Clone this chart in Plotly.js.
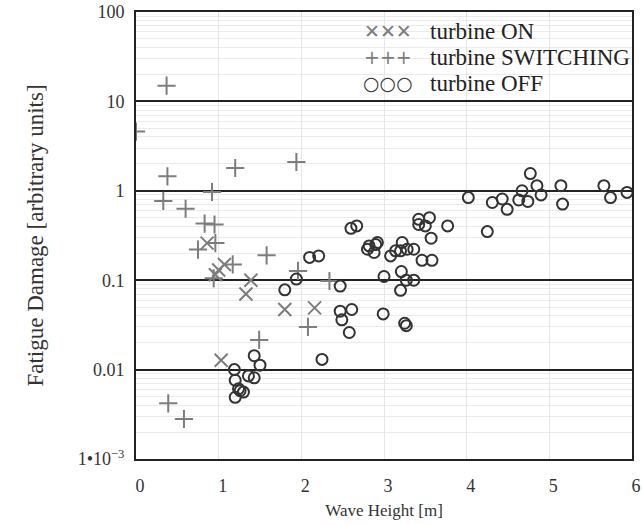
<!DOCTYPE html>
<html>
<head>
<meta charset="utf-8">
<script src="https://cdn.plot.ly/plotly-3.0.1.min.js"></script>
<style>html,body{margin:0;padding:0;background:#fff;}#chart{width:642px;height:525px;}</style>
</head>
<body>
<div id="chart"></div>
<script>
// ---- data ----
const seriesNames = ["turbine ON", "turbine SWITCHING", "turbine OFF"];
const legendSymbols = ["✕✕✕", "+++", "○○○"];

const onX = [0.86, 1.07, 1.00, 0.96, 1.39, 1.33, 1.03, 1.80, 2.16];
const onY = [0.26, 0.15, 0.13, 0.115, 0.10, 0.07, 0.0127, 0.047, 0.049];

const switchX = [0.37, 0.00, 0.38, 0.33, 0.60, 0.92, 1.20, 1.94, 0.83, 0.95, 0.96, 0.75, 1.58, 1.17, 0.94, 1.96, 2.34, 2.08, 1.49, 0.39, 0.58];
const switchY = [15, 4.6, 1.45, 0.77, 0.63, 0.97, 1.8, 2.1, 0.43, 0.42, 0.26, 0.22, 0.19, 0.15, 0.105, 0.127, 0.098, 0.03, 0.0215, 0.0042, 0.0028];

const offX = [1.19, 1.20, 1.24, 1.20, 1.30, 1.36, 1.43, 1.43, 1.50, 1.26,
              1.80, 1.94, 2.10, 2.21, 2.47, 2.47, 2.61, 2.49, 2.58, 2.25,
              2.99, 3.25, 3.27, 3.00, 3.21, 3.27, 3.36, 3.20,
              2.60, 2.67, 2.80, 2.82, 2.88, 2.92, 2.90,
              3.08, 3.14, 3.22, 3.20, 3.28, 3.36, 3.46, 3.58,
              3.42, 3.55, 3.42, 3.50, 3.57, 3.77,
              4.02, 4.25, 4.31, 4.43, 4.49, 4.63, 4.67, 4.74, 4.77, 4.85, 4.90,
              5.14, 5.16, 5.66, 5.74, 5.94];
const offY = [0.010, 0.0076, 0.0061, 0.0049, 0.0056, 0.0085, 0.0081, 0.0143, 0.0112, 0.0058,
              0.078, 0.103, 0.18, 0.187, 0.086, 0.045, 0.047, 0.036, 0.026, 0.013,
              0.042, 0.033, 0.031, 0.11, 0.125, 0.10, 0.10, 0.077,
              0.38, 0.405, 0.222, 0.242, 0.204, 0.264, 0.25,
              0.187, 0.213, 0.264, 0.213, 0.222, 0.222, 0.167, 0.167,
              0.48, 0.50, 0.42, 0.405, 0.295, 0.405,
              0.84, 0.35, 0.74, 0.81, 0.62, 0.79, 1.0, 0.76, 1.56, 1.14, 0.90,
              1.14, 0.71, 1.14, 0.84, 0.96];

const yTickVals = [0.001, 0.01, 0.1, 1, 10, 100];
const yTickText = ["1•10<sup>−3</sup>", "0.01", "0.1", "1", "10", "100"];
const xTickVals = [0, 1, 2, 3, 4, 5, 6];
const xTickText = ["0", "1", "2", "3", "4", "5", "6"];

// ---- styling ----
const serif = "Liberation Serif, Times New Roman, serif";
const gray = "#7d7d7d";
const dark = "#333333";

const traces = [
  {x: onX, y: onY, name: seriesNames[0], type: "scatter", mode: "markers",
   marker: {symbol: "x-thin-open", size: 13, color: gray, line: {color: gray, width: 2}}},
  {x: switchX, y: switchY, name: seriesNames[1], type: "scatter", mode: "markers",
   marker: {symbol: "cross-thin-open", size: 13, color: gray, line: {color: gray, width: 2}}},
  {x: offX, y: offY, name: seriesNames[2], type: "scatter", mode: "markers",
   marker: {symbol: "circle-open", size: 11, color: dark, line: {color: dark, width: 2}}}
];

const rowsY = [0.957, 0.899, 0.841];
const symColors = [gray, gray, dark];
const annotations = [];
for (let i = 0; i < 3; i++) {
  annotations.push({xref: "paper", yref: "paper", x: 0.508, y: rowsY[i], text: legendSymbols[i],
    showarrow: false, xanchor: "center", yanchor: "middle",
    font: {family: "DejaVu Sans", size: 19, color: symColors[i]}});
  annotations.push({xref: "paper", yref: "paper", x: 0.589, y: rowsY[i], text: seriesNames[i],
    showarrow: false, xanchor: "left", yanchor: "middle",
    font: {family: serif, size: 23, color: "#222"}});
}

const layout = {
  width: 642, height: 525,
  margin: {l: 136, r: 10, t: 12, b: 66},
  paper_bgcolor: "#fff", plot_bgcolor: "#fff",
  showlegend: false,
  font: {family: serif, color: dark},
  xaxis: {
    range: [0, 6], tickvals: xTickVals, ticktext: xTickText,
    showgrid: true, gridcolor: "#e6e6e6", gridwidth: 1,
    showline: true, mirror: true, linecolor: "#222", linewidth: 2,
    ticks: "", zeroline: false, ticklabelstandoff: 9, ticklabelshift: 4,
    tickfont: {family: serif, size: 18, color: dark},
    title: {text: "Wave Height [m]", font: {family: serif, size: 17, color: dark}, standoff: 10}
  },
  yaxis: {
    type: "log", range: [-3, 2], tickvals: yTickVals, ticktext: yTickText,
    showgrid: true, gridcolor: "#222", gridwidth: 2,
    minor: {showgrid: true, gridcolor: "#ebebeb", gridwidth: 1, dtick: "D1", ticks: ""},
    showline: true, mirror: true, linecolor: "#222", linewidth: 2,
    ticks: "", zeroline: false, ticklabelstandoff: 6,
    tickfont: {family: serif, size: 18, color: dark},
    title: {text: "Fatigue Damage [arbitrary units]", font: {family: serif, size: 23, color: dark}, standoff: 28}
  },
  shapes: [
    {type: "rect", xref: "paper", yref: "paper", x0: 0.446, x1: 1, y0: 0.806, y1: 1,
     fillcolor: "#fff", line: {width: 0}, layer: "between"}
  ],
  annotations: annotations
};

Plotly.newPlot("chart", traces, layout, {displayModeBar: false, staticPlot: true});
</script>
</body>
</html>
